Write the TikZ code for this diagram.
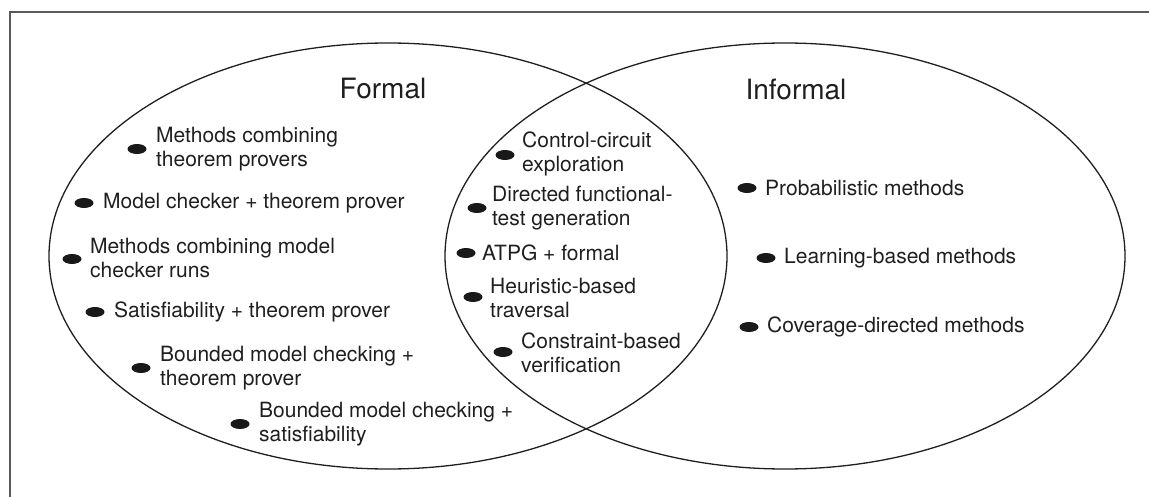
\documentclass[tikz,border=0pt]{standalone}
\usepackage{fontspec}
\setmainfont{TeX Gyre Heros}
\usetikzlibrary{shapes.geometric}
\tikzset{
  bul/.style={ellipse,fill=black!90,minimum width=19pt,minimum height=10pt,inner sep=0pt},
  item/.style={anchor=west,inner sep=0pt,align=left,font=\fontsize{21}{23.5}\selectfont,text=black!88},
  ttl/.style={inner sep=0pt,font=\fontsize{28}{30}\selectfont,text=black!88},
  venn/.style={draw=black!88,line width=1.3pt}
}
\begin{document}
\begin{tikzpicture}[x=1pt,y=-1pt]
\useasboundingbox (0,0) rectangle (1149,497);
\draw[black!65,line width=2pt] (10,497) -- (10,12) -- (1149,12);
\draw[venn] (388,256) ellipse [x radius=339,y radius=213];
\draw[venn] (785,256) ellipse [x radius=340,y radius=213];
\node[ttl] (formal) at (383,89) {Formal};
\node[ttl] (informal) at (796,89) {Informal};
% left
\node[bul] (l1) at (137,149) {};
\node[item] (t1) at (156,149) {Methods combining\\theorem provers};
\node[bul] (l2) at (84,203) {};
\node[item] (t2) at (103,203) {Model checker + theorem prover};
\node[bul] (l3) at (72,259) {};
\node[item] (t3) at (90,258) {Methods combining model\\checker runs};
\node[bul] (l4) at (95,312) {};
\node[item] (t4) at (114,312) {Satisfiability + theorem prover};
\node[bul] (l5) at (141,368) {};
\node[item] (t5) at (160,368) {Bounded model checking +\\theorem prover};
\node[bul] (l6) at (240,424) {};
\node[item] (t6) at (259,424) {Bounded model checking +\\satisfiability};
% middle
\node[bul] (m1) at (505,155) {};
\node[item] (u1) at (522,154) {Control-circuit\\exploration};
\node[bul] (m2) at (477,208) {};
\node[item] (u2) at (492,208) {Directed functional-\\test generation};
\node[bul] (m3) at (466,253) {};
\node[item] (u3) at (482,253) {ATPG + formal};
\node[bul] (m4) at (473,297) {};
\node[item] (u4) at (490,298) {Heuristic-based\\traversal};
\node[bul] (m5) at (503,352) {};
\node[item] (u5) at (521,353) {Constraint-based\\verification};
% right
\node[bul] (r1) at (747,188) {};
\node[item] (v1) at (765,188) {Probabilistic methods};
\node[bul] (r2) at (766,258) {};
\node[item] (v2) at (784,258) {Learning-based methods};
\node[bul] (r3) at (749,327) {};
\node[item] (v3) at (767,327) {Coverage-directed methods};
\end{tikzpicture}
\end{document}
